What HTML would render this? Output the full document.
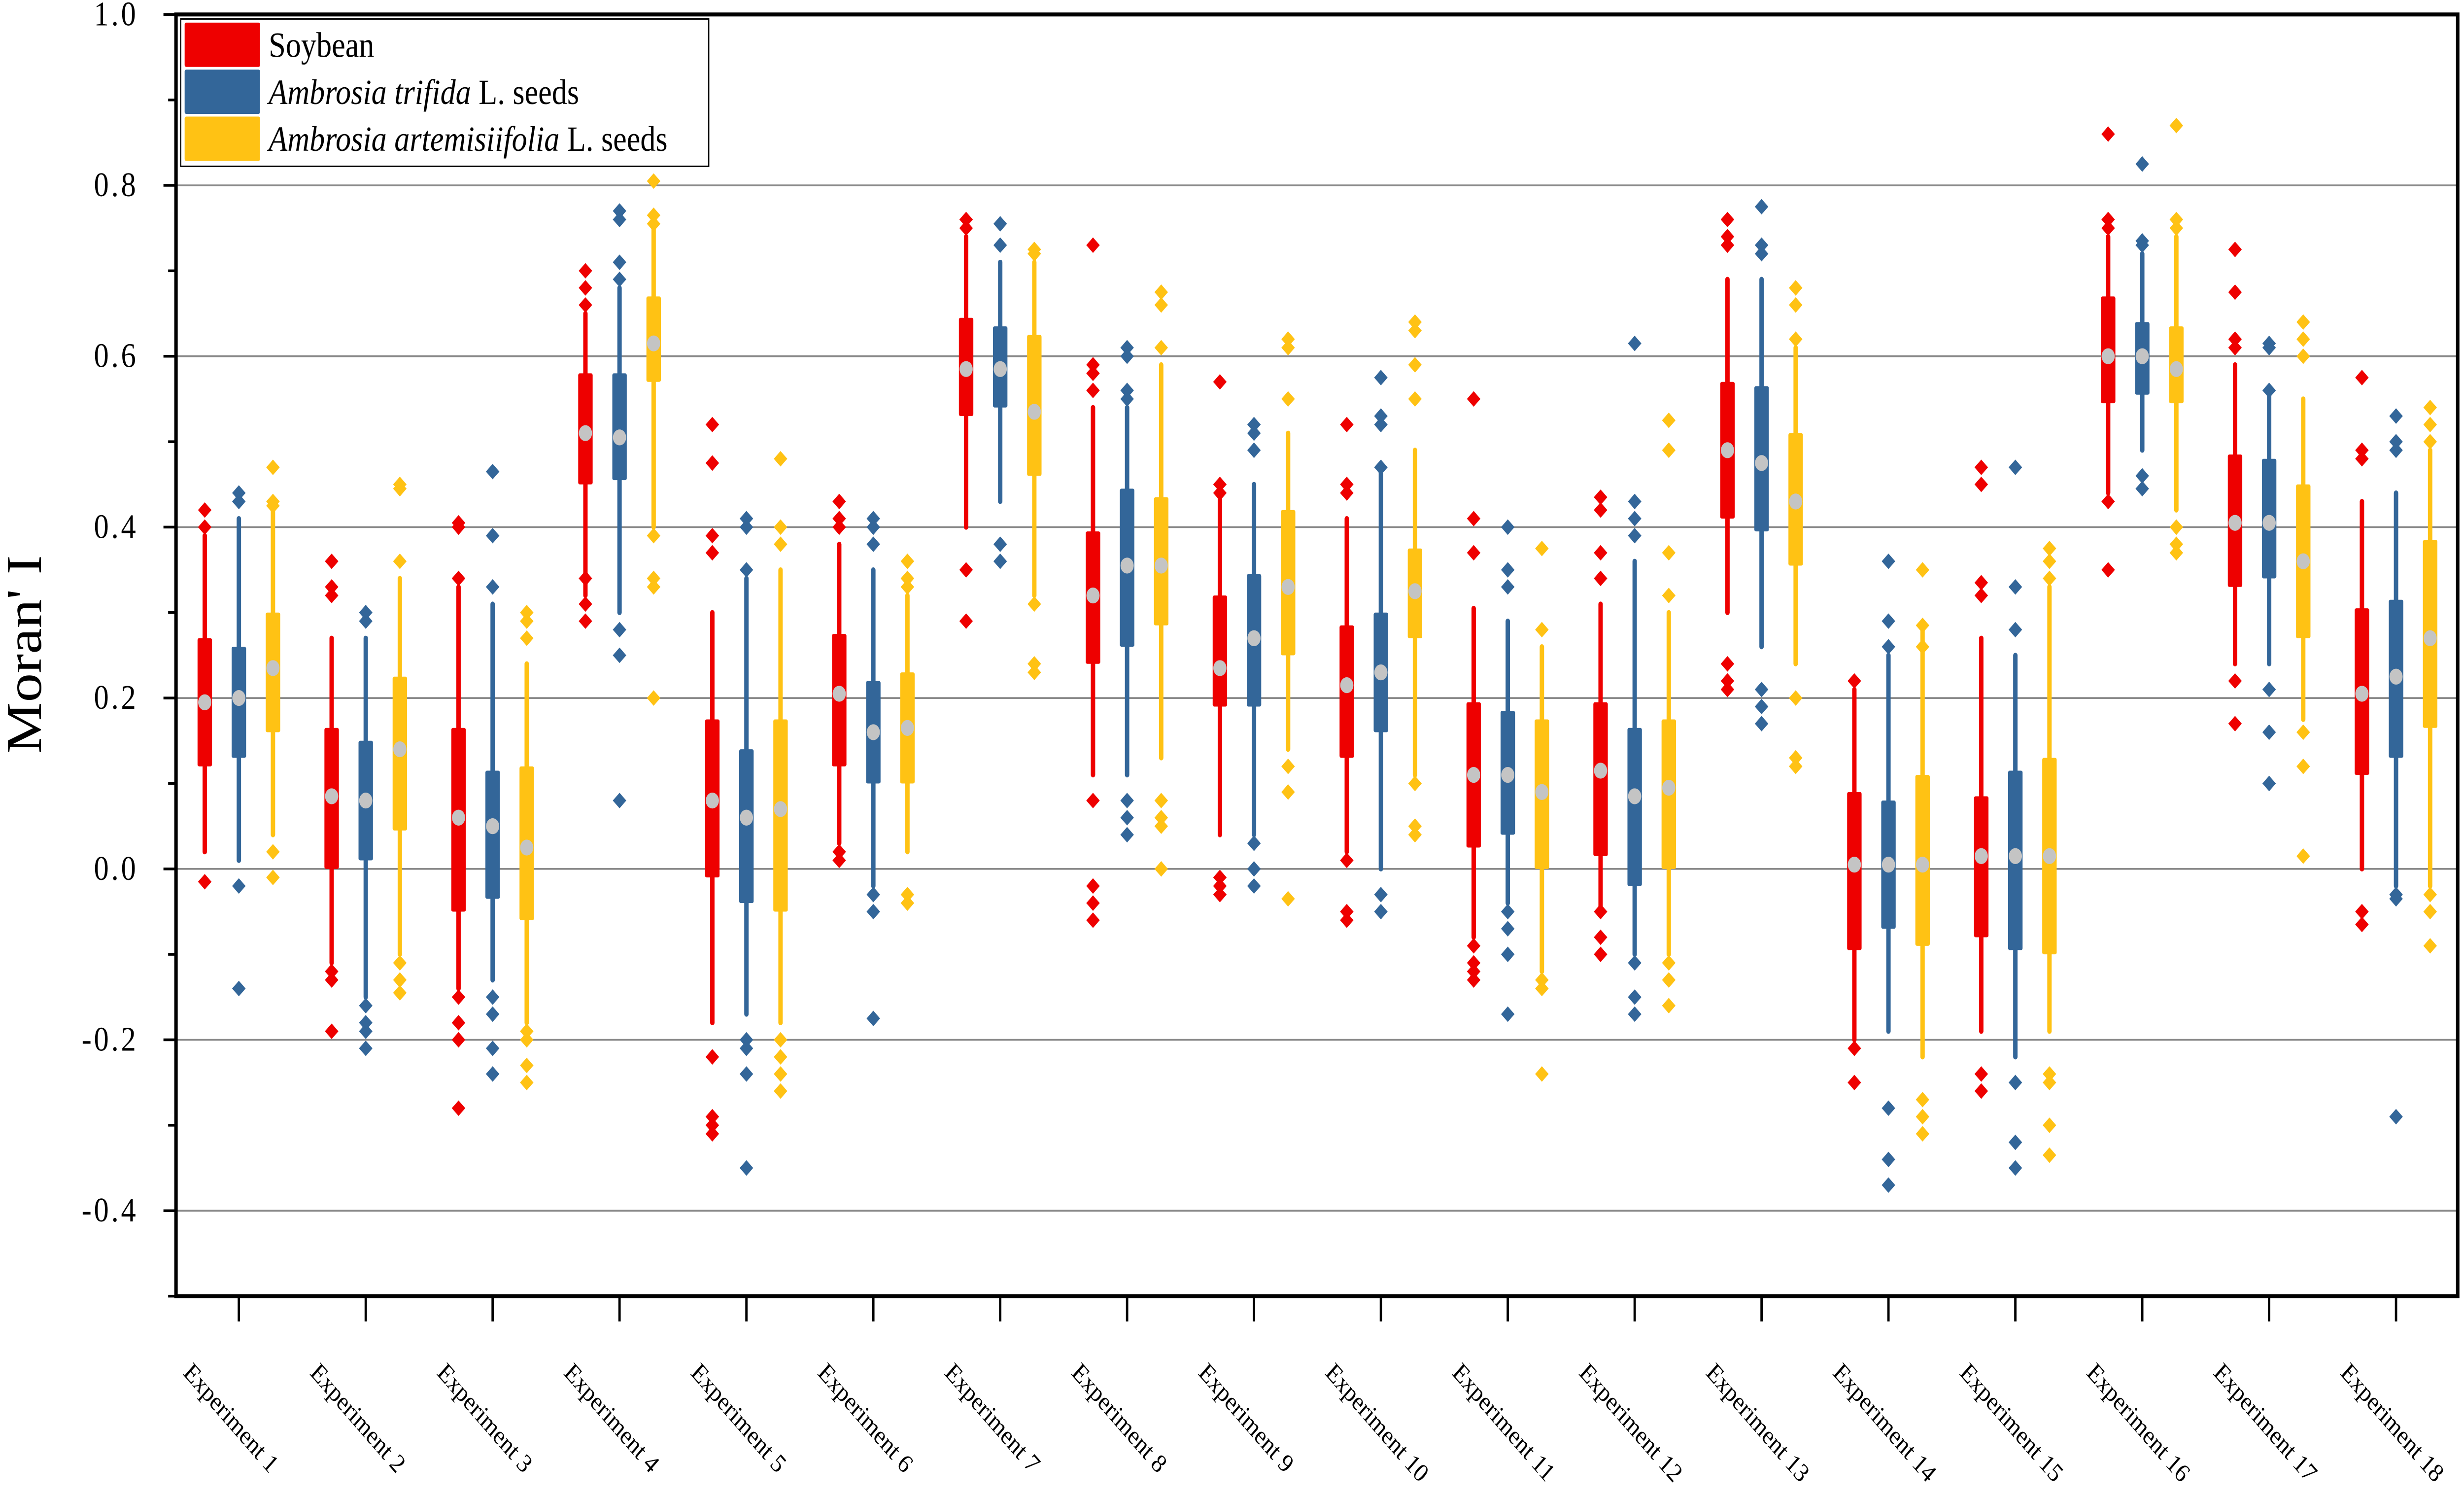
<!DOCTYPE html>
<html><head><meta charset="utf-8"><style>
html,body{margin:0;padding:0;background:#fff;width:100vw;height:100vh;overflow:hidden;}
svg{display:block;position:fixed;left:0;top:0;width:100vw;height:100vh;}
text{font-family:"Liberation Serif",serif;fill:#000;}
</style></head><body>
<svg id="svgroot" viewBox="0 0 1568 827" preserveAspectRatio="none" xmlns="http://www.w3.org/2000/svg">
<g id="chart"></g>
</svg>
<script>
const categories = ["Experiment 1","Experiment 2","Experiment 3","Experiment 4","Experiment 5","Experiment 6","Experiment 7","Experiment 8","Experiment 9","Experiment 10","Experiment 11","Experiment 12","Experiment 13","Experiment 14","Experiment 15","Experiment 16","Experiment 17","Experiment 18"];
const seriesNames = ["Soybean","Ambrosia trifida L. seeds","Ambrosia artemisiifolia L. seeds"];
const yTicks = [1.0,0.8,0.6,0.4,0.2,0.0,-0.2,-0.4];
const yTickLabels = ["1.0","0.8","0.6","0.4","0.2","0.0","-0.2","-0.4"];
// [whiskerLow, q1, median, q3, whiskerHigh]
const soybeanStats = [
[0.02,0.12,0.195,0.27,0.39],[-0.11,0.00,0.085,0.165,0.27],[-0.14,-0.05,0.06,0.165,0.33],[0.32,0.45,0.51,0.58,0.65],
[-0.18,-0.01,0.08,0.175,0.30],[0.03,0.12,0.205,0.275,0.38],[0.40,0.53,0.585,0.645,0.74],[0.11,0.24,0.32,0.395,0.54],
[0.04,0.19,0.235,0.32,0.44],[0.02,0.13,0.215,0.285,0.41],[-0.08,0.025,0.11,0.195,0.305],[-0.05,0.015,0.115,0.195,0.31],
[0.30,0.41,0.49,0.57,0.69],[-0.20,-0.095,0.005,0.09,0.21],[-0.19,-0.08,0.015,0.085,0.27],[0.44,0.545,0.60,0.67,0.74],
[0.24,0.33,0.405,0.485,0.59],[0.00,0.11,0.205,0.305,0.43]];
const trifidaStats = [
[0.01,0.13,0.20,0.26,0.41],[-0.15,0.01,0.08,0.15,0.27],[-0.13,-0.035,0.05,0.115,0.31],[0.30,0.455,0.505,0.58,0.68],
[-0.17,-0.04,0.06,0.14,0.34],[-0.02,0.10,0.16,0.22,0.35],[0.43,0.54,0.585,0.635,0.71],[0.11,0.26,0.355,0.445,0.54],
[0.04,0.19,0.27,0.345,0.45],[0.00,0.16,0.23,0.30,0.465],[-0.04,0.04,0.11,0.185,0.29],[-0.10,-0.02,0.085,0.165,0.36],
[0.26,0.395,0.475,0.565,0.69],[-0.19,-0.07,0.005,0.08,0.25],[-0.22,-0.095,0.015,0.115,0.25],[0.49,0.555,0.60,0.64,0.72],
[0.24,0.34,0.405,0.48,0.56],[-0.02,0.13,0.225,0.315,0.44]];
const artemisiifoliaStats = [
[0.04,0.16,0.235,0.30,0.42],[-0.10,0.045,0.14,0.225,0.34],[-0.18,-0.06,0.025,0.12,0.24],[0.40,0.57,0.615,0.67,0.75],
[-0.18,-0.05,0.07,0.175,0.35],[0.02,0.10,0.165,0.23,0.32],[0.32,0.46,0.535,0.625,0.71],[0.13,0.285,0.355,0.435,0.59],
[0.14,0.25,0.33,0.42,0.51],[0.11,0.27,0.325,0.375,0.49],[-0.12,0.00,0.09,0.175,0.26],[-0.10,0.00,0.095,0.175,0.30],
[0.24,0.355,0.43,0.51,0.61],[-0.22,-0.09,0.005,0.11,0.28],[-0.19,-0.10,0.015,0.13,0.33],[0.42,0.545,0.585,0.635,0.74],
[0.175,0.27,0.36,0.45,0.55],[-0.02,0.165,0.27,0.385,0.49]];
const soybeanOutliers = [
[0.42,0.40,-0.015],[0.36,0.33,0.32,-0.12,-0.13,-0.19],[0.405,0.40,0.34,-0.15,-0.18,-0.20,-0.28],[0.70,0.68,0.66,0.34,0.31,0.29],
[0.52,0.475,0.39,0.37,-0.22,-0.29,-0.30,-0.31],[0.43,0.41,0.40,0.02,0.01],[0.76,0.75,0.35,0.29],[0.73,0.59,0.58,0.56,0.08,-0.02,-0.04,-0.06],
[0.57,0.45,0.44,-0.01,-0.02,-0.03],[0.52,0.45,0.44,0.01,-0.05,-0.06],[0.55,0.41,0.37,-0.09,-0.11,-0.12,-0.13],[0.435,0.42,0.37,0.34,-0.05,-0.08,-0.10],
[0.76,0.74,0.73,0.24,0.22,0.21],[0.22,-0.21,-0.25],[0.47,0.45,0.335,0.32,-0.24,-0.26],[0.86,0.76,0.75,0.43,0.35],
[0.725,0.675,0.62,0.61,0.22,0.17],[0.575,0.49,0.48,-0.05,-0.065]];
const trifidaOutliers = [
[0.44,0.43,-0.02,-0.14],[0.30,0.29,-0.16,-0.18,-0.19,-0.21],[0.465,0.39,0.33,-0.15,-0.17,-0.21,-0.24],[0.77,0.76,0.71,0.69,0.28,0.25,0.08],
[0.41,0.40,0.35,-0.20,-0.21,-0.24,-0.35],[0.41,0.40,0.38,-0.03,-0.05,-0.175],[0.755,0.73,0.38,0.36],[0.61,0.60,0.56,0.55,0.08,0.06,0.04],
[0.52,0.51,0.49,0.03,0.00,-0.02],[0.575,0.53,0.52,0.47,-0.03,-0.05],[0.40,0.35,0.33,-0.05,-0.07,-0.10,-0.17],[0.615,0.43,0.41,0.39,-0.11,-0.15,-0.17],
[0.775,0.73,0.72,0.21,0.19,0.17],[0.36,0.29,0.26,-0.28,-0.34,-0.37],[0.47,0.33,0.28,-0.25,-0.32,-0.35],[0.825,0.735,0.73,0.46,0.445],
[0.615,0.61,0.56,0.21,0.16,0.10],[0.53,0.50,0.49,-0.03,-0.035,-0.29]];
const artemisiifoliaOutliers = [
[0.47,0.43,0.425,0.02,-0.01],[0.45,0.445,0.36,-0.11,-0.13,-0.145],[0.30,0.29,0.27,-0.19,-0.20,-0.23,-0.25],[0.805,0.765,0.755,0.39,0.34,0.33,0.20],
[0.48,0.40,0.38,-0.20,-0.22,-0.24,-0.26],[0.36,0.34,0.33,-0.03,-0.04],[0.725,0.72,0.31,0.24,0.23],[0.675,0.66,0.61,0.08,0.06,0.05,0.00],
[0.62,0.61,0.55,0.12,0.09,-0.035],[0.64,0.63,0.59,0.55,0.10,0.05,0.04],[0.375,0.28,-0.13,-0.14,-0.24],[0.525,0.49,0.37,0.32,-0.11,-0.13,-0.16],
[0.68,0.66,0.62,0.20,0.13,0.12],[0.35,0.285,0.26,-0.27,-0.29,-0.31],[0.375,0.36,0.34,-0.24,-0.25,-0.30,-0.335],[0.87,0.76,0.75,0.40,0.38,0.37],
[0.64,0.62,0.60,0.16,0.12,0.015],[0.54,0.52,0.50,-0.03,-0.05,-0.09]];

const NS='http://www.w3.org/2000/svg';
const svg=document.getElementById('chart');
const L=112,R=1564,T=8,B=717;
const yMin=-0.5,yMax=1.0;
function yScale(v){return B-(v-yMin)/(yMax-yMin)*(B-T);}
function xScale(i){return 152+i*80.75;}
const offsets=[-21.7,0,21.7];
const colors=["#ee0000","#336699","#ffc214"];
function mk(tag,attrs,parent){const e=document.createElementNS(NS,tag);for(const k in attrs)e.setAttribute(k,attrs[k]);(parent||svg).appendChild(e);return e;}

yTicks.forEach((t,i)=>{
  if(t<1.0){
    const g=mk('line',{x1:L,x2:R,y1:yScale(t),y2:yScale(t),stroke:'#8a8a8a','stroke-width':1});
    
    
  }
});
for(let k=-5;k<=10;k++){
  const v=k/10;const major=(k%2===0);
  const t=mk('line',{x1:L,x2:L-(major?8:5),y1:yScale(v),y2:yScale(v),stroke:'#000','stroke-width':1.5});
  
  
}
yTicks.forEach((t,i)=>{
  const tx=mk('text',{x:88,y:yScale(t)+6,'text-anchor':'end','font-size':19,'letter-spacing':'1.5'});
  tx.textContent=yTickLabels[i];
  
  
});
const yt=mk('text',{x:0,y:0,transform:'translate(26,362) rotate(-90)','text-anchor':'middle','font-size':32});
yt.textContent="Moran' I";



categories.forEach((c,i)=>{
  const x=xScale(i);
  const t=mk('line',{x1:x,x2:x,y1:B,y2:B+14,stroke:'#000','stroke-width':1.5});
  
  
  const tx=mk('text',{x:0,y:0,transform:`translate(${x-36},${760}) rotate(45)`,'font-size':14.5});
  tx.textContent=c;
  
  
});

const allStats=[soybeanStats,trifidaStats,artemisiifoliaStats];
const allOut=[soybeanOutliers,trifidaOutliers,artemisiifoliaOutliers];
allStats.forEach((stats,s)=>{
  const grp=mk('g',{});
  
  
  stats.forEach((d,i)=>{
    const x=xScale(i)+offsets[s];
    const w=mk('line',{x1:x,x2:x,y1:yScale(d[0]),y2:yScale(d[4]),stroke:colors[s],'stroke-width':2.8,'stroke-linecap':'round'},grp);
    
    
    const b=mk('rect',{x:x-4.6,y:yScale(d[3]),width:9.2,height:yScale(d[1])-yScale(d[3]),fill:colors[s],rx:1},grp);
    
    
    allOut[s][i].forEach(o=>{
      const yy=yScale(o);
      const p=mk('polygon',{points:`${x},${yy-4.3} ${x+4.3},${yy} ${x},${yy+4.3} ${x-4.3},${yy}`,fill:colors[s]},grp);
      
      
    });
    const m=mk('ellipse',{cx:x,cy:yScale(d[2]),rx:4.2,ry:4.4,fill:'#c4c4c4'},grp);
    
    
  });
});

const fr=mk('rect',{x:L,y:T,width:R-L,height:B-T,fill:'none',stroke:'#000','stroke-width':2.2});



const lg=mk('g',{});


const lb=mk('rect',{x:115,y:10.5,width:336,height:81.5,fill:'#fff',stroke:'#000','stroke-width':0.8},lg);


const labelsHTML=[['Soybean',''],['Ambrosia trifida',' L. seeds'],['Ambrosia artemisiifolia',' L. seeds']];
labelsHTML.forEach((lab,k)=>{
  const y0=12.5+k*26;
  const sw=mk('rect',{x:117.5,y:y0,width:48,height:24.5,fill:colors[k],rx:1},lg);
  
  
  const tx=mk('text',{x:171,y:y0+19,'font-size':19.5},lg);
  
  
  if(k===0){tx.textContent=lab[0];}
  else{
    const a=mk('tspan',{'font-style':'italic'},tx);a.textContent=lab[0];
    const b=mk('tspan',{},tx);b.textContent=lab[1];
  }
});
</script>
</body></html>
